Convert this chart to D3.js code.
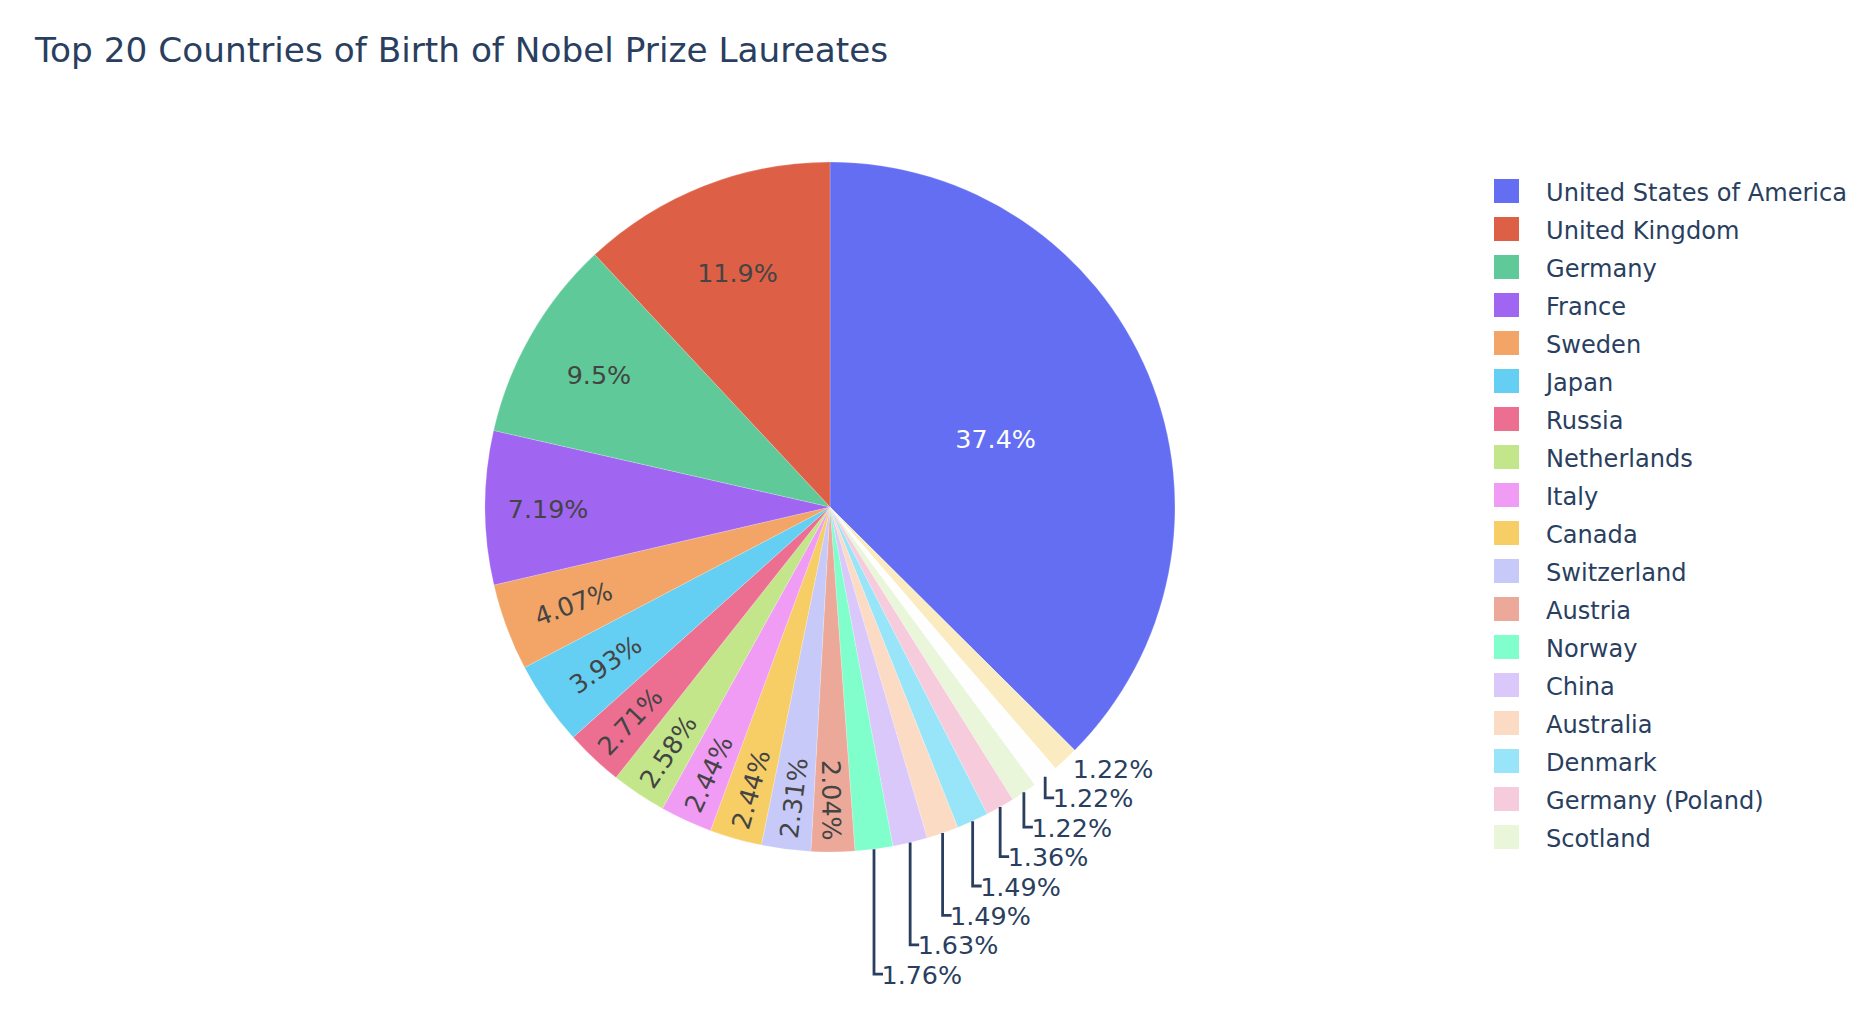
<!DOCTYPE html>
<html>
<head>
    <title>Nobel laureates</title>
    <script src="https://cdn.jsdelivr.net/npm/d3@7"></script>
    <style type="text/css">
     body { margin: 0; background: white; }
     text { font-family: "DejaVu Sans", Verdana, sans-serif; }
    </style>
</head>

<body>
    <script type="text/javascript">

     var countries = ["United States of America", "United Kingdom", "Germany", "France", "Sweden",
		      "Japan", "Russia", "Netherlands", "Italy", "Canada",
		      "Switzerland", "Austria", "Norway", "China", "Australia",
		      "Denmark", "Germany (Poland)", "Scotland", "Hungary", "Belgium"];
     var counts = [276, 88, 70, 53, 30, 29, 20, 19, 18, 18, 17, 15, 13, 12, 11, 11, 10, 9, 9, 9];
     var colors = ["#636ef3", "#dd6046", "#5fc99a", "#a066f2", "#f2a566",
		   "#64cff2", "#ec6f92", "#c4e68a", "#f09cf5", "#f7cd66",
		   "#c7caf9", "#eca999", "#80ffcc", "#dbc8fa", "#fbdbc3",
		   "#98e5f9", "#f6ccdc", "#e9f6da", "#fffeff", "#fbebc0"];
     var legendRows = 18; // the rest of the legend is scrolled away

     var w = 1856;
     var h = 1026;
     var cx = 830;
     var cy = 507;
     var R = 345;
     var darkBlue = "#2a3f5f";
     var labelSize = 25.4;
     var total = d3.sum(counts);

     var svg = d3.select("body")
		 .append("svg")
		 .attr("width", w)
		 .attr("height", h);

     svg.append("text")
	.attr("x", 35)
	.attr("y", 62)
	.attr("font-size", 34.3)
	.attr("fill", darkBlue)
	.text("Top 20 Countries of Birth of Nobel Prize Laureates");

     var color = d3.scaleOrdinal().domain(countries).range(colors);
     var pct = d3.format(".3~p");

     var rows = countries.map(function(c, i){ return {name: c, value: counts[i]}; });
     // clockwise: biggest first, then from the smallest upwards
     var ordered = [rows[0]].concat(rows.slice(1).reverse());

     var pie = d3.pie().sort(null).value(function(d){ return d.value; });
     var arc = d3.arc().innerRadius(0).outerRadius(R);
     var arcs = pie(ordered);

     var g = svg.append("g").attr("transform", "translate(" + cx + "," + cy + ")");

     g.selectAll("path.slice")
      .data(arcs)
      .enter()
      .append("path")
      .attr("class", "slice")
      .attr("d", arc)
      .attr("stroke", "white")
      .attr("stroke-width", 0.2)
      .attr("fill", function(d){ return color(d.data.name); });

     function mid(d){ return (d.startAngle + d.endAngle) / 2; }
     function share(d){ return d.data.value / total; }
     function px(a, r){ return r * Math.sin(a); }
     function py(a, r){ return -r * Math.cos(a); }

     var inside = arcs.filter(function(d){ return share(d) > 0.02; });
     var outside = arcs.filter(function(d){ return share(d) <= 0.02; });

     g.selectAll("text.inside")
      .data(inside)
      .enter()
      .append("text")
      .attr("class", "inside")
      .attr("text-anchor", "middle")
      .attr("dy", "0.4em")
      .attr("font-size", labelSize)
      .attr("fill", function(d){ return d.data.name == countries[0] ? "white" : "#444444"; })
      .attr("transform", function(d){
	  var a = mid(d), s = share(d), r, rot = 0;
	  if (s > 0.05) {
	      // horizontal text sits just inside the inscribed circle
	      r = R * (1 - 1 / (1 + 1 / Math.sin(s * Math.PI)));
	  } else {
	      r = R * (s > 0.03 ? 0.795 : 0.85);
	      var deg = a * 180 / Math.PI;
	      rot = deg < 180 ? deg - 90 : deg - 270;
	  }
	  return "translate(" + px(a, r) + "," + py(a, r) + ") rotate(" + rot + ")";
      })
      .text(function(d){ return pct(share(d)); });

     // outside labels stack downwards so they do not collide
     var lineGap = 29.4;
     var lastY = -Infinity;
     outside.forEach(function(d){
	 var a = mid(d);
	 d.ex = px(a, R);
	 d.ey = py(a, R);
	 d.ly = Math.max(d.ey + 9, lastY + lineGap);
	 lastY = d.ly;
     });

     g.selectAll("path.leader")
      .data(outside.slice(1))
      .enter()
      .append("path")
      .attr("class", "leader")
      .attr("fill", "none")
      .attr("stroke", darkBlue)
      .attr("stroke-width", 2.8)
      .attr("d", function(d){
	  return "M" + d.ex + "," + d.ey + "V" + d.ly + "h9";
      });

     g.selectAll("text.outside")
      .data(outside)
      .enter()
      .append("text")
      .attr("class", "outside")
      .attr("x", function(d){ return d.ex + 7.5; })
      .attr("y", function(d){ return d.ly; })
      .attr("dy", "0.38em")
      .attr("font-size", labelSize)
      .attr("fill", darkBlue)
      .text(function(d){ return pct(share(d)); });

     var legendY = d3.scalePoint()
		     .domain(countries.slice(0, legendRows))
		     .range([191, 191 + 38 * (legendRows - 1)]);

     var legend = svg.selectAll("g.legend")
		     .data(countries.slice(0, legendRows))
		     .enter()
		     .append("g")
		     .attr("class", "legend")
		     .attr("transform", function(d){ return "translate(1494," + legendY(d) + ")"; });

     legend.append("rect")
	   .attr("y", -12)
	   .attr("width", 25)
	   .attr("height", 24)
	   .attr("fill", function(d){ return color(d); });

     legend.append("text")
	   .attr("x", 52)
	   .attr("dy", "0.42em")
	   .attr("font-size", 24.1)
	   .attr("fill", darkBlue)
	   .text(function(d){ return d; });

    </script>
</body>
</html>
